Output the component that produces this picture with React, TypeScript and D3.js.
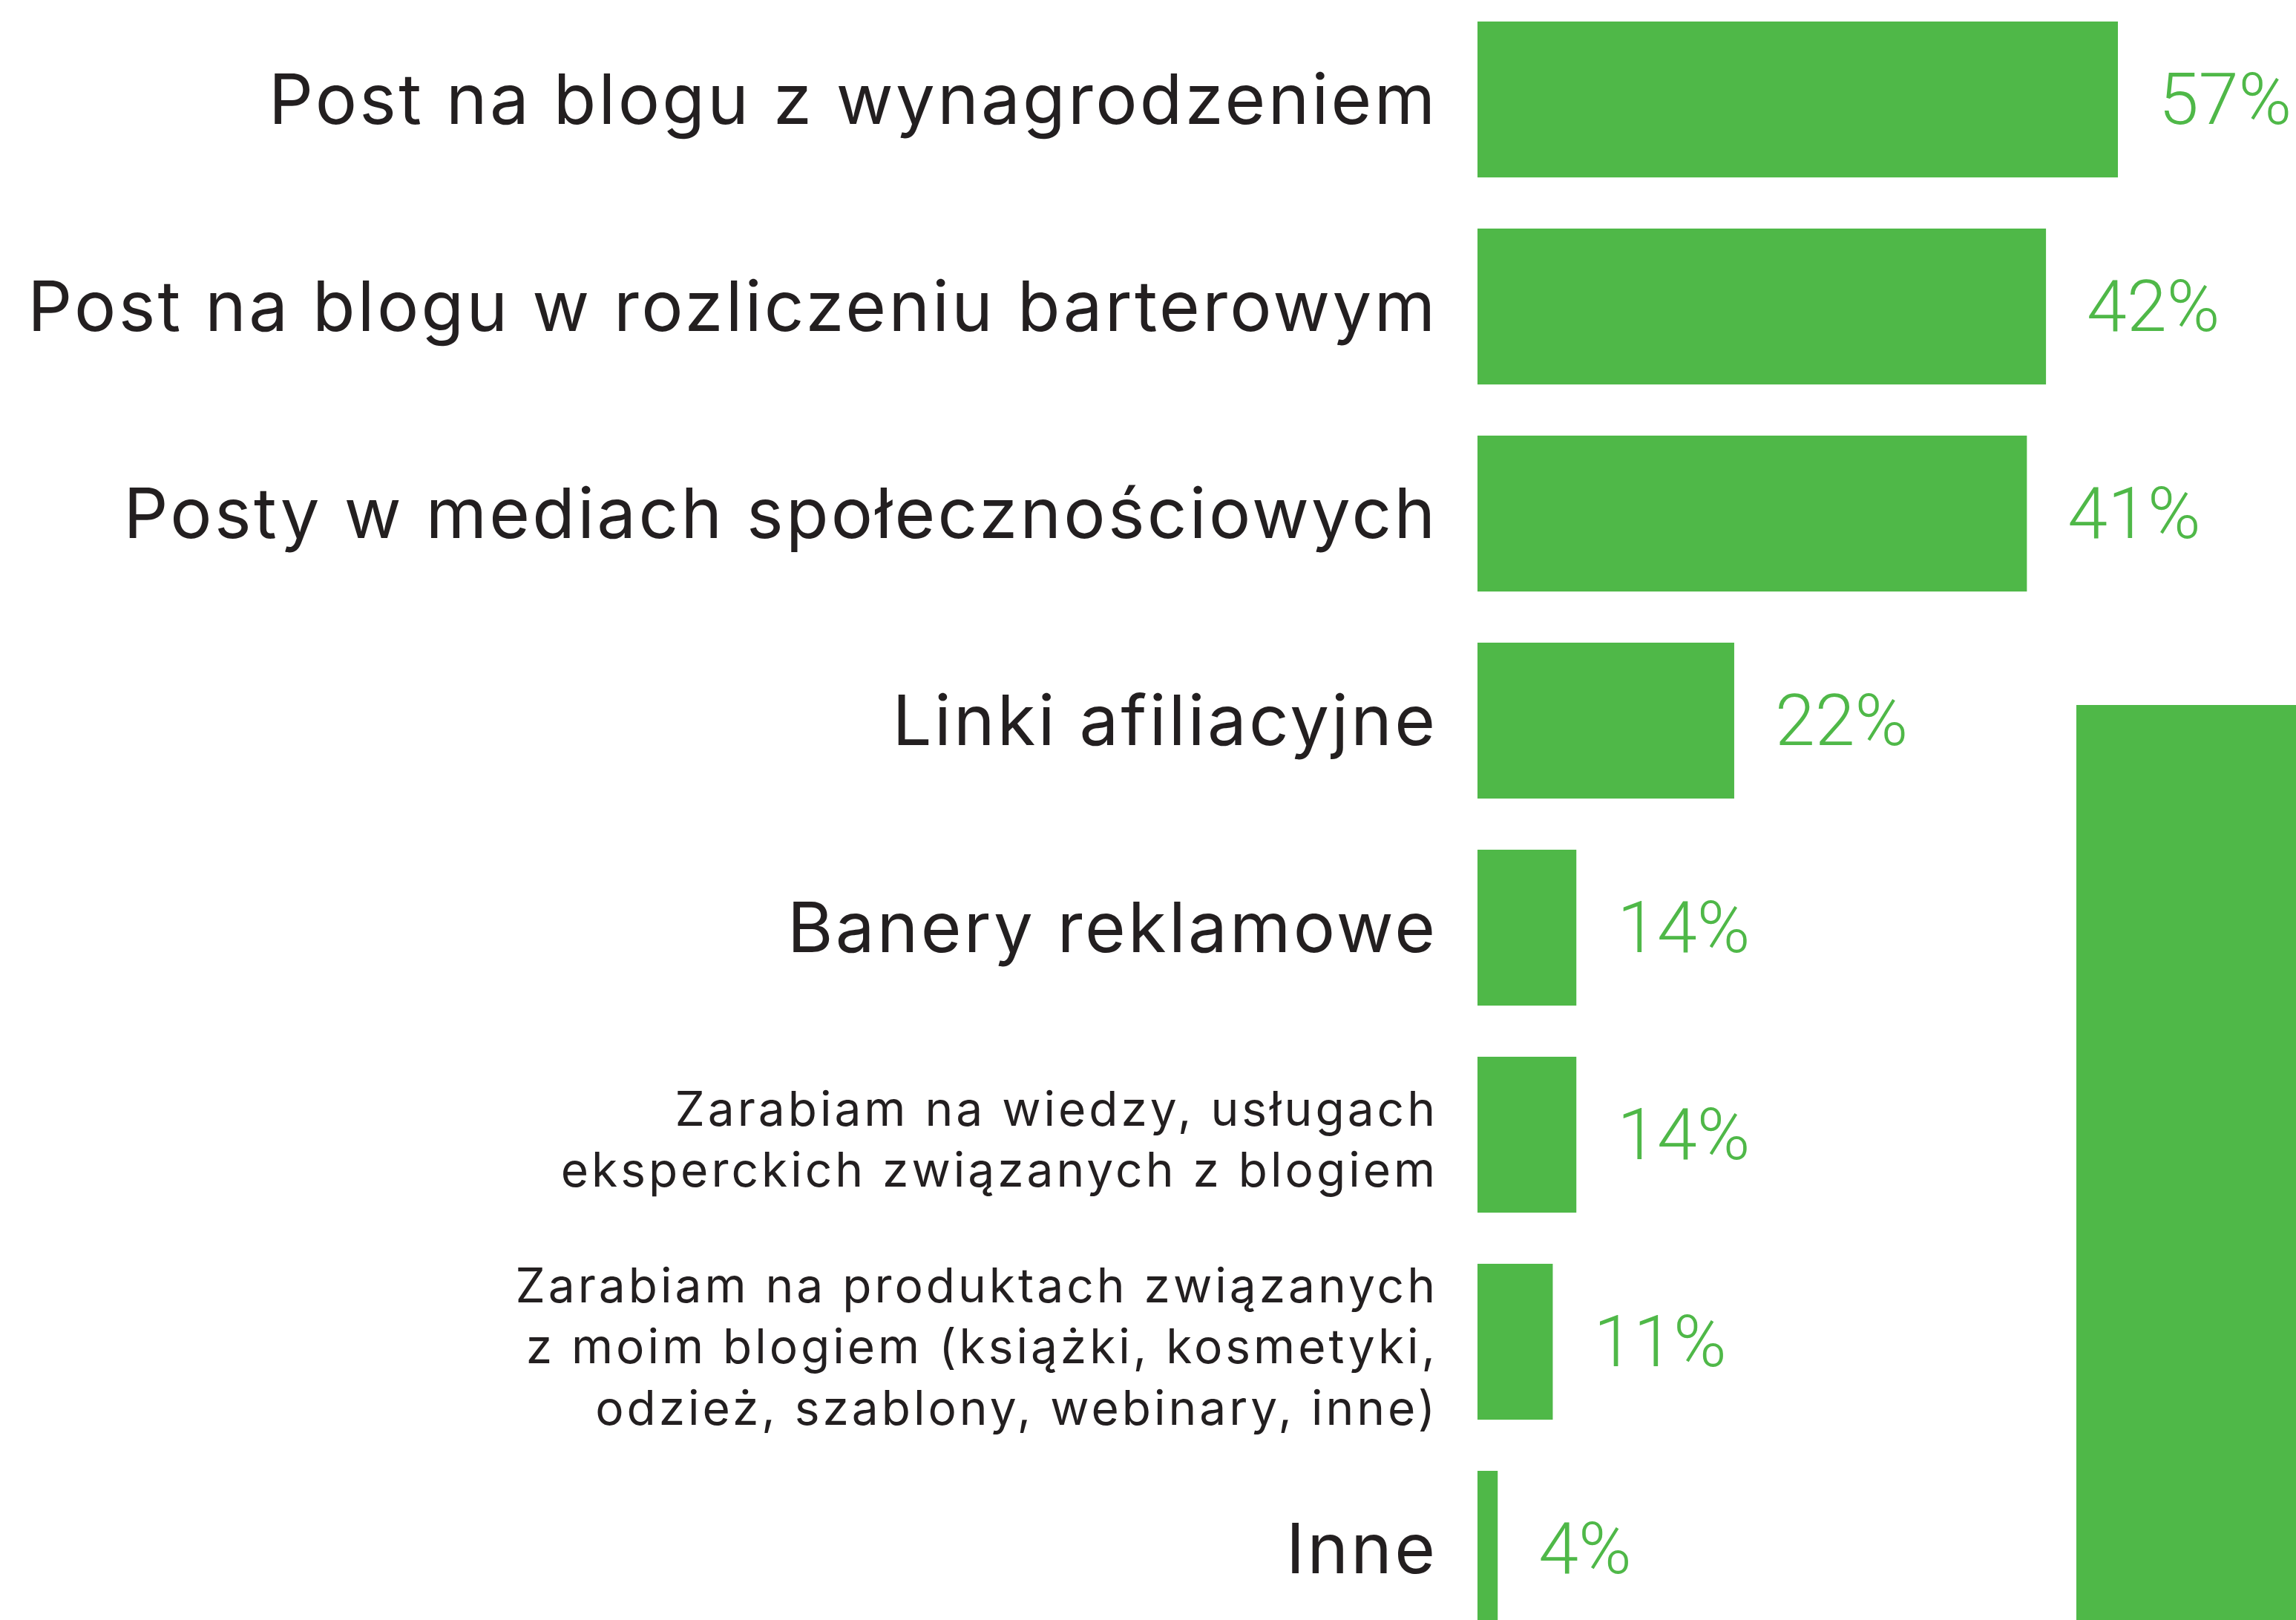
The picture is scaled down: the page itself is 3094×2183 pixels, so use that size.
import React from 'react';
import * as d3 from 'd3';

const categories = [
  'Post na blogu z wynagrodzeniem',
  'Post na blogu w rozliczeniu barterowym',
  'Posty w mediach społecznościowych',
  'Linki afiliacyjne',
  'Banery reklamowe',
  'Zarabiam na wiedzy, usługach\neksperckich związanych z blogiem',
  'Zarabiam na produktach związanych\nz moim blogiem (książki, kosmetyki,\nodzież, szablony, webinary, inne)',
  'Inne',
];
const values = [57, 42, 41, 22, 14, 14, 11, 4];
const barLengths = [57, 50.6, 48.9, 22.85, 8.8, 8.8, 6.7, 1.8];

const W = 3094;
const H = 2183;
const GREEN = '#4fb848';
const INK = '#231f20';
const FONT = 'Inter, Lato, sans-serif';
const PCT_FONT = 'Roboto, Inter, sans-serif';

export default function App() {
  const x0 = 1991;
  const x = d3.scaleLinear().domain([0, 57]).range([x0, 2854]);
  const step = 279;
  const y = d3
    .scaleBand<string>()
    .domain(categories)
    .range([29, 29 + step * categories.length - step * 0.247])
    .paddingInner(0.247)
    .paddingOuter(0);

  return (
    <svg
      width={W}
      height={H}
      viewBox={`0 0 ${W} ${H}`}
      style={{ position: 'absolute', left: 0, top: 0, display: 'block', background: '#fff' }}
    >
      <rect x={0} y={0} width={W} height={H} fill="#fff" />
      <rect x={2798} y={950} width={W - 2798} height={H - 950} fill={GREEN} />
      {categories.map((c, i) => {
        const top = y(c)!;
        const bw = y.bandwidth();
        const cy = top + bw / 2;
        const lines = c.split('\n');
        const multi = lines.length > 1;
        const fs = multi ? 64 : 94;
        const ls = multi ? 4 : 3.3;
        const cap = multi ? 46 : 68;
        const lh = 82.5;
        const firstBase = multi ? cy - ((lines.length - 1) * lh) / 2 + cap / 2 + 6 : cy + 33;
        const end = x(barLengths[i]);
        return (
          <g key={c}>
            <rect x={x0} y={top} width={end - x0} height={bw} fill={GREEN} />
            {lines.map((ln, j) => (
              <text
                key={j}
                x={1934 + ls}
                y={firstBase + j * lh}
                textAnchor="end"
                fontFamily={FONT}
                fontSize={fs}
                letterSpacing={ls}
                fill={INK}
              >
                {ln}
              </text>
            ))}
            <text
              x={end + 55}
              y={cy + 33}
              fontFamily={PCT_FONT}
              fontWeight={300}
              fontSize={97}
              fill={GREEN}
            >
              {values[i]}%
            </text>
          </g>
        );
      })}
    </svg>
  );
}
